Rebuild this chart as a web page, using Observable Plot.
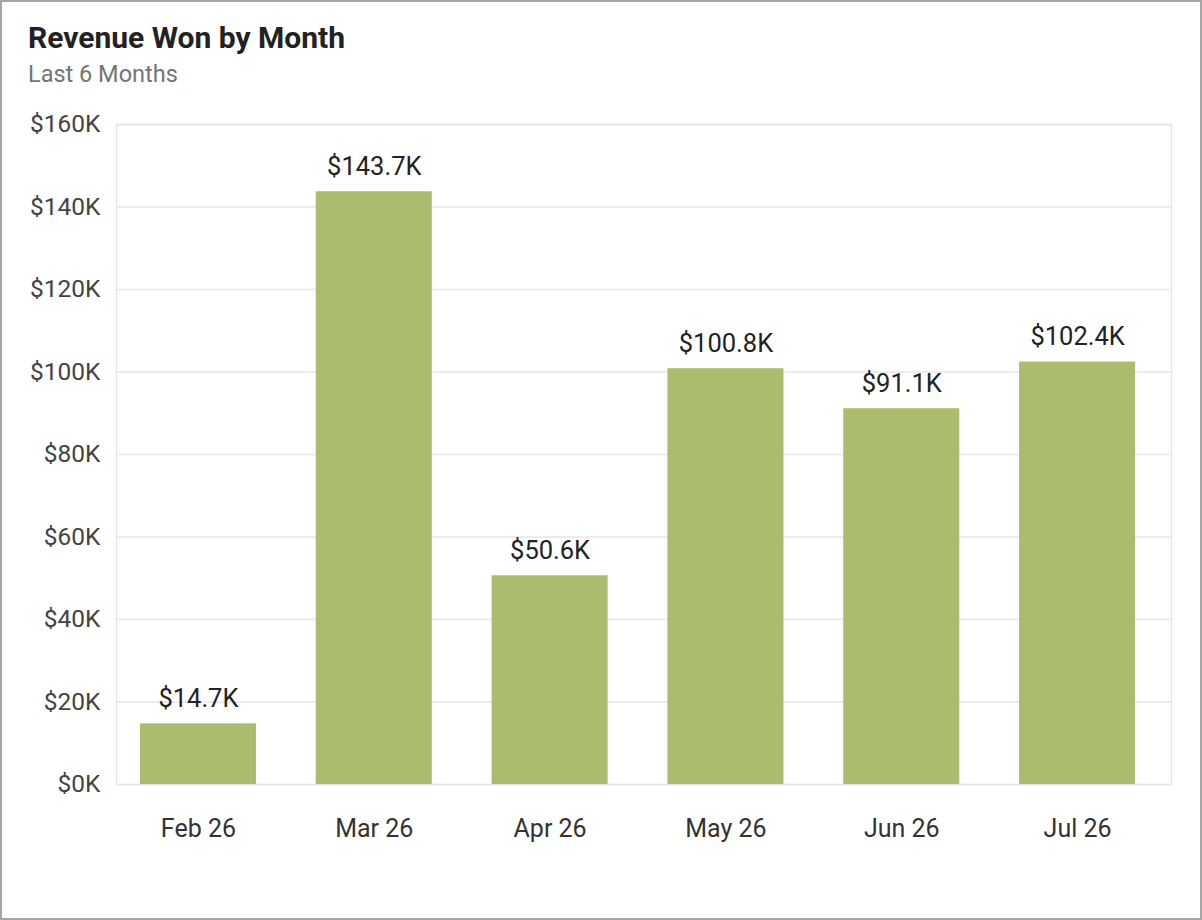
<!DOCTYPE html>
<html>
<head>
<meta charset="utf-8">
<script src="https://cdn.jsdelivr.net/npm/d3@7"></script>
<script src="https://cdn.jsdelivr.net/npm/@observablehq/plot@0.6"></script>
<style>
  html, body { margin: 0; padding: 0; background: #fff; }
  #wrap { position: relative; width: 1202px; height: 920px; box-sizing: border-box; border: 2px solid #a6a6a6; font-family: Roboto, "Noto Sans", sans-serif; background: #fff; }
  #title { position: absolute; left: 26px; top: 21px; font-size: 30px; line-height: 1; font-weight: 700; color: #222; white-space: nowrap; }
  #subtitle { position: absolute; left: 26px; top: 61.2px; font-size: 23.5px; line-height: 1; color: #757575; white-space: nowrap; }
  #chart { position: absolute; left: 0; top: 98px; }
</style>
</head>
<body>
<div id="wrap">
  <div id="title">Revenue Won by Month</div>
  <div id="subtitle">Last 6 Months</div>
  <div id="chart"></div>
</div>
<script>
const months = ["Feb 26", "Mar 26", "Apr 26", "May 26", "Jun 26", "Jul 26"];
const revenue = [14700, 143700, 50600, 100800, 91100, 102400];
const yTicks = [0, 20000, 40000, 60000, 80000, 100000, 120000, 140000, 160000];

const data = months.map((m, i) => ({month: m, value: revenue[i]}));
const fmtTick = d => `$${d / 1000}K`;
const fmtVal = d => `$${(d / 1000).toFixed(1)}K`;

const chart = Plot.plot({
  width: 1198,
  height: 800,
  marginLeft: 114,
  marginRight: 29,
  marginTop: 24,
  marginBottom: 116,
  style: {fontFamily: "Roboto, 'Noto Sans', sans-serif", background: "transparent", overflow: "visible"},
  x: {domain: months, paddingInner: 0.34, paddingOuter: 0.17, align: 0.4, round: false, label: null},
  y: {domain: [0, 160000], label: null},
  marks: [
    Plot.gridY(yTicks, {stroke: "#e6e6e6", strokeOpacity: 1, strokeWidth: 1.5}),
    Plot.frame({stroke: "#e6e6e6", strokeWidth: 1.5}),
    Plot.barY(data, {x: "month", y: "value", fill: "#abbd6c"}),
    Plot.text(data, {x: "month", y: "value", text: d => fmtVal(d.value), lineAnchor: "bottom", dy: -17, fontSize: 25.5, fill: "#222"}),
    Plot.axisY(yTicks, {tickSize: 0, tickPadding: 16, tickFormat: fmtTick, fontSize: 24.5, color: "#444", label: null}),
    Plot.axisX({tickSize: 0, tickPadding: 35, fontSize: 25, color: "#333", label: null, lineAnchor: "top"})
  ]
});
document.getElementById("chart").appendChild(chart);
</script>
</body>
</html>
